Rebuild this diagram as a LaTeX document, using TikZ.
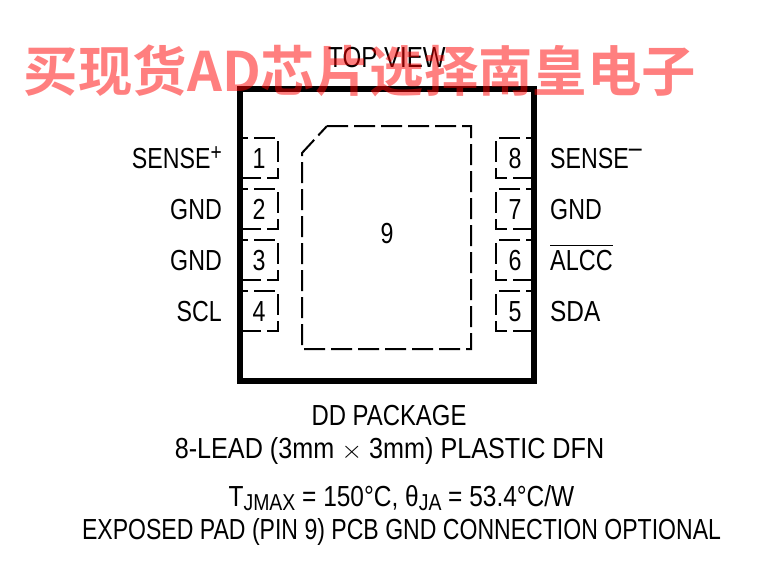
\documentclass[tikz,border=0pt]{standalone}
\usepackage{fontspec}
\setmainfont[FakeStretch=0.8]{Liberation Sans}
\newfontfamily\cjkbold[BoldFont=Noto Sans CJK SC Bold]{Noto Sans CJK SC}
\newcommand{\lowsub}[1]{\raisebox{-4.5pt}{\fontsize{23}{25}\selectfont #1}}
\newcommand{\wider}[2]{\scalebox{#1}[1]{#2}}
\begin{document}
\begin{tikzpicture}[x=1pt,y=-1pt,
  lbl/.style={inner sep=0pt,font=\fontsize{29}{32}\selectfont,anchor=base},
  lblr/.style={lbl,anchor=base east},
  lbll/.style={lbl,anchor=base west},
  padline/.style={line width=2pt,dash pattern=on 21pt off 6pt,dash phase=15pt},
  exposed/.style={line width=2pt,dash pattern=on 21pt off 6pt}]
\useasboundingbox (0,0) rectangle (767,567);
\fill[white] (0,0) rectangle (767,567);
\draw[line width=6pt] (240,89) rectangle (534,381);
% pads
\foreach \y in {138,189,240,291}{
  \draw[padline] (242,\y) -- (278,\y) -- (278,\y+40) -- (242,\y+40);
  \draw[padline] (532,\y) -- (496,\y) -- (496,\y+40) -- (532,\y+40);
}
% exposed pad
\draw[exposed] (327,126) -- (471,126) -- (471,349) -- (302,349) -- (302,153) -- cycle;
\node[lbl] (nine) at (387,243) {9};
\node[lbl] (p1) at (259,168) {1};
\node[lbl] (p2) at (259,219) {2};
\node[lbl] (p3) at (259,270) {3};
\node[lbl] (p4) at (259,321) {4};
\node[lbl] (p8) at (515,168) {8};
\node[lbl] (p7) at (515,219) {7};
\node[lbl] (p6) at (515,270) {6};
\node[lbl] (p5) at (515,321) {5};
\node[lblr] (l1) at (222,168) {SENSE\raisebox{8pt}{\fontsize{24}{26}\selectfont +}};
\node[lblr] (l2) at (222,219) {GND};
\node[lblr] (l3) at (222,270) {GND};
\node[lblr] (l4) at (222,321) {SCL};
\node[lbll] (r8) at (550,168) {SENSE\raisebox{11pt}{\fontsize{29}{31}\selectfont –}};
\node[lbll] (r7) at (550,219) {GND};
\node[lbll] (r6) at (550,270) {\wider{1.01}{ALCC}};
\draw[line width=1.3pt] ([yshift=24.5pt]r6.base west) -- ([yshift=24.5pt]r6.base east);
\node[lbll] (r5) at (550,321) {\wider{1.05}{SDA}};
\node[lbl] (top) at (387,68) {\wider{1.04}{TOP VIEW}};
\node[lbl] (t1) at (389,425) {\wider{1.03}{DD PACKAGE}};
\node[lbl] (t2) at (389.5,458.5) {\wider{1.085}{8-LEAD (3mm $\times$ 3mm) PLASTIC DFN}};
\node[lbl] (t3) at (401.5,506) {\wider{1.055}{T\lowsub{JMAX} = 150°C, θ\lowsub{JA} = 53.4°C/W}};
\node[lbl] (t4) at (401.5,539) {\wider{0.994}{EXPOSED PAD (PIN 9) PCB GND CONNECTION OPTIONAL}};
\node[inner sep=0pt,anchor=base,text=red,opacity=0.5,text opacity=0.5] (wm) at (360,92)
  {\fontsize{54.4}{58}\selectfont\cjkbold\bfseries 买现货AD芯片选择南皇电子};
\end{tikzpicture}
\end{document}
